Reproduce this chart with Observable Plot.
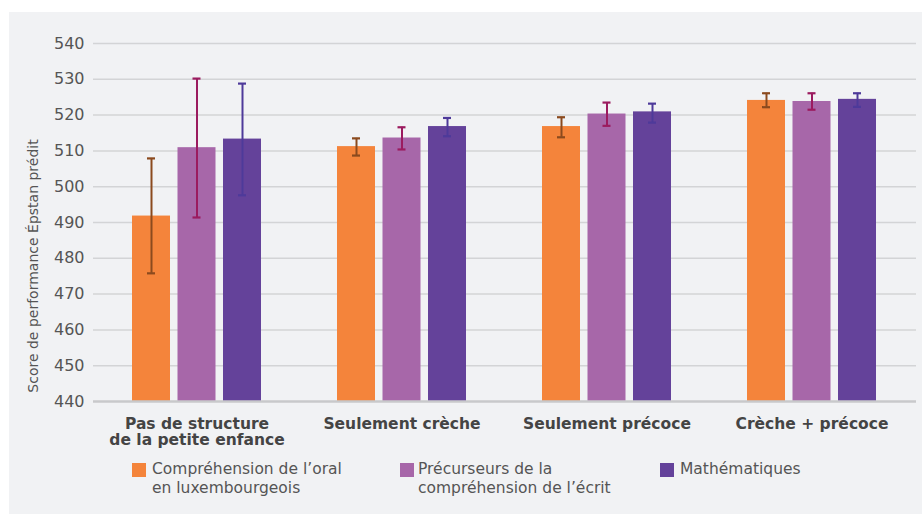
<!DOCTYPE html>
<html>
<head>
<meta charset="utf-8">
<script src="https://cdn.jsdelivr.net/npm/d3@7"></script>
<script src="https://cdn.jsdelivr.net/npm/@observablehq/plot@0.6"></script>
<style>
  html, body { margin: 0; padding: 0; background: #ffffff; }
  body { width: 922px; height: 514px; position: relative; overflow: hidden; font-family: "DejaVu Sans", sans-serif; }
  #panel { position: absolute; left: 9px; top: 12px; width: 913px; height: 502px; background: #f1f2f4; }
  #chart { position: absolute; left: 0; top: 0; }
  #ytitle { position: absolute; left: 33px; top: 266px; transform: translate(-50%, -50%) rotate(-90deg); white-space: nowrap; font-size: 14px; color: #555; }
  .leg { position: absolute; top: 460px; font-size: 15.5px; line-height: 19px; color: #555; white-space: pre; }
  .sw { position: absolute; top: 463px; width: 14px; height: 14px; }
</style>
</head>
<body>
<div id="panel"></div>
<div id="chart"></div>
<div id="ytitle">Score de performance Épstan prédit</div>
<script>
// ---- data ----
const groups = ["Pas de structure\nde la petite enfance", "Seulement crèche", "Seulement précoce", "Crèche + précoce"];
const seriesNames = ["Compréhension de l’oral\nen luxembourgeois", "Précurseurs de la\ncompréhension de l’écrit", "Mathématiques"];
const oral     = [491.8, 511.2, 516.8, 524.1];
const oralLo   = [475.8, 508.7, 513.8, 522.2];
const oralHi   = [507.9, 513.5, 519.4, 526.1];
const ecrit    = [510.9, 513.6, 520.3, 523.8];
const ecritLo  = [491.4, 510.4, 517.0, 521.5];
const ecritHi  = [530.2, 516.6, 523.5, 526.1];
const maths    = [513.3, 516.8, 520.9, 524.4];
const mathsLo  = [497.6, 514.1, 517.9, 522.3];
const mathsHi  = [528.8, 519.2, 523.2, 526.1];
const yTicks = [440, 450, 460, 470, 480, 490, 500, 510, 520, 530, 540];

// ---- styles ----
const barColors = ["#f4843b", "#a767a9", "#64429a"];
const errColors = ["#8b4a1e", "#9b1b5f", "#4e3a9a"];

const seriesVals = [[oral, oralLo, oralHi], [ecrit, ecritLo, ecritHi], [maths, mathsLo, mathsHi]];
const rows = [];
seriesVals.forEach(([v, lo, hi], s) => groups.forEach((g, i) => rows.push({group: g, s, value: v[i], lo: lo[i], hi: hi[i]})));

const BW = 130, BAR = 39, STEP = 45.5, CAP = 9;
const marks = [
  Plot.ruleY(yTicks.filter(t => t > 440), {stroke: "#d3d4d6", strokeWidth: 1.5}),
];
for (let s = 0; s < 3; s++) {
  const d = rows.filter(r => r.s === s);
  marks.push(Plot.barY(d, {x: "group", y1: 440, y2: "value", fill: barColors[s],
    insetLeft: s * STEP, insetRight: BW - BAR - s * STEP}));
}
marks.push(Plot.ruleY([440], {stroke: "#c8c9cb", strokeWidth: 2.5}));
for (let s = 0; s < 3; s++) {
  const d = rows.filter(r => r.s === s);
  const dx = (s - 1) * STEP;
  marks.push(Plot.ruleX(d, {x: "group", y1: "lo", y2: "hi", stroke: errColors[s], strokeWidth: 2, dx}));
  const il = s * STEP + BAR / 2 - CAP / 2, ir = BW - il - CAP;
  marks.push(Plot.tickY(d, {x: "group", y: "hi", stroke: errColors[s], strokeWidth: 2.2, insetLeft: il, insetRight: ir}));
  marks.push(Plot.tickY(d, {x: "group", y: "lo", stroke: errColors[s], strokeWidth: 2.2, insetLeft: il, insetRight: ir}));
}
marks.push(Plot.axisY({ticks: yTicks, tickSize: 0, tickPadding: 9, fontSize: 16, fill: "#555", label: null}));
marks.push(Plot.axisX({tickSize: 0, tickPadding: 16, fontSize: 15.5, fontWeight: "bold", fill: "#444", lineHeight: 1.05, label: null}));

const chart = Plot.plot({
  width: 922, height: 455,
  marginTop: 43, marginBottom: 54, marginLeft: 93, marginRight: 6,
  style: {background: "transparent", fontFamily: "DejaVu Sans, sans-serif"},
  x: {domain: groups, paddingInner: 0.369, paddingOuter: 0.184, axis: null},
  y: {domain: [440, 540], axis: null},
  marks
});
document.getElementById("chart").appendChild(chart);

// ---- legend ----
const legX = [[132, 152], [400, 418], [660, 680]];
seriesNames.forEach((name, s) => {
  const sw = document.createElement("div");
  sw.className = "sw"; sw.style.left = legX[s][0] + "px"; sw.style.background = barColors[s];
  document.body.appendChild(sw);
  const t = document.createElement("div");
  t.className = "leg"; t.style.left = legX[s][1] + "px"; t.textContent = name;
  document.body.appendChild(t);
});
</script>
</body>
</html>
